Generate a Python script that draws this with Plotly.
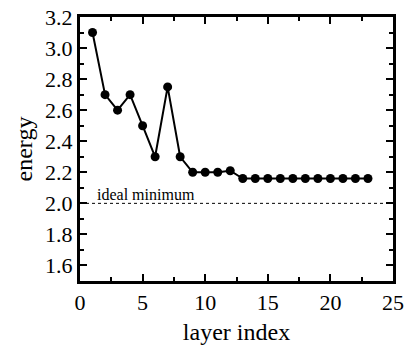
import plotly.graph_objects as go

layer = list(range(1, 24))
energy = [3.10, 2.70, 2.60, 2.70, 2.50, 2.30, 2.75, 2.30, 2.20, 2.20, 2.20, 2.21,
          2.16, 2.16, 2.16, 2.16, 2.16, 2.16, 2.16, 2.16, 2.16, 2.16, 2.16]
ideal_min = 2.0
ideal_label = "ideal minimum"
x_range = [0, 25]
y_range = [1.5, 3.2]

font = "Times New Roman, Liberation Serif, serif"

fig = go.Figure()
fig.add_trace(go.Scatter(x=layer, y=energy, mode="lines+markers",
                         line=dict(color="black", width=2),
                         marker=dict(color="black", size=9),
                         showlegend=False, cliponaxis=False, hoverinfo="skip"))
fig.add_trace(go.Scatter(x=x_range, y=[ideal_min, ideal_min], mode="lines",
                         line=dict(color="black", width=1, dash="dot"),
                         showlegend=False, hoverinfo="skip"))
fig.add_annotation(x=1.2, y=ideal_min, text=ideal_label, showarrow=False,
                   xanchor="left", yanchor="bottom", yshift=-2,
                   font=dict(family=font, size=16, color="black"))

fig.update_layout(
    width=407, height=345, margin=dict(l=80, r=14, t=17, b=64, autoexpand=False),
    font=dict(family=font, size=22, color="black"),
    plot_bgcolor="white", paper_bgcolor="white",
    xaxis=dict(range=x_range, tickmode="linear", tick0=0, dtick=5,
               showline=True, linecolor="black", linewidth=3, mirror="allticks",
               ticks="inside", ticklen=7, tickwidth=2, tickcolor="black",
               showgrid=False, zeroline=False, automargin=False,
               tickfont=dict(family=font, size=22, color="black"),
               title=dict(text="layer index", font=dict(family=font, size=24, color="black"), standoff=14),
               minor=dict(tickmode="linear", tick0=0, dtick=2.5, ticks="inside", ticklen=4,
                          tickwidth=2, tickcolor="black", showgrid=False)),
    yaxis=dict(range=y_range, tickmode="linear", tick0=1.6, dtick=0.2, tickformat=".1f",
               showline=True, linecolor="black", linewidth=3, mirror="allticks",
               ticks="inside", ticklen=7, tickwidth=2, tickcolor="black",
               showgrid=False, zeroline=False, automargin=False,
               tickfont=dict(family=font, size=22, color="black"),
               title=dict(text="energy", font=dict(family=font, size=24, color="black"), standoff=6),
               minor=dict(tickmode="linear", tick0=1.5, dtick=0.1, ticks="inside", ticklen=4,
                          tickwidth=2, tickcolor="black", showgrid=False)),
)
fig.write_html("out.html", config={"displayModeBar": False},
               post_script="document.body.style.margin='0px';")
